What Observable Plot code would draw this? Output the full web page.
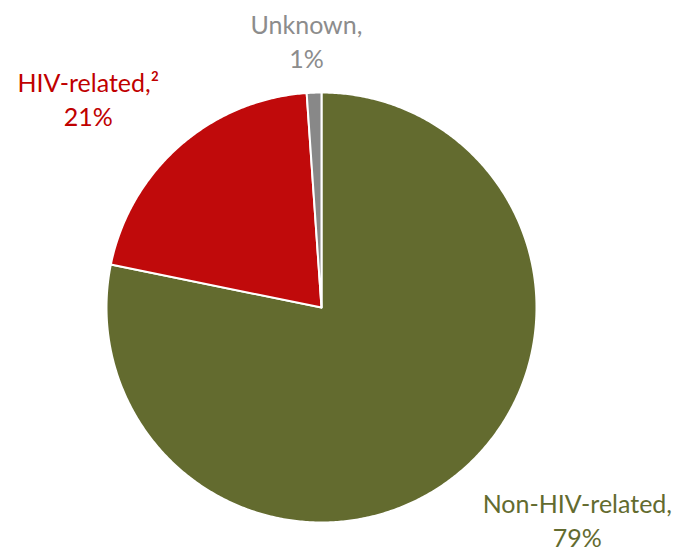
<!DOCTYPE html>
<html>
<head>
<meta charset="utf-8">
<script src="https://cdn.jsdelivr.net/npm/d3@7"></script>
<script src="https://cdn.jsdelivr.net/npm/@observablehq/plot@0.6"></script>
<style>
  html, body { margin: 0; padding: 0; background: #fff; }
  #chart svg { display: block; }
</style>
</head>
<body>
<div id="chart"></div>
<script>
// Data (clockwise from 12 o'clock)
const categories = ["Non-HIV-related", "HIV-related", "Unknown"];
const values = [78.2, 20.7, 1.1];
const colors = ["#636B2F", "#C00A0B", "#888888"];
const labelTexts = ["Non-HIV-related,\n79%", "HIV-related,\u00B2\n21%", "Unknown,\n1%"];
const labelColors = ["#636B2F", "#C00000", "#8C8C8C"];
// label anchor positions in unit-circle coordinates (radius = 1)
const labelX = [1.19, -1.085, -0.07];
const labelY = [-0.982, 0.976, 1.245];

// Build slice polygons from the values
const total = d3.sum(values);
const rows = [];
let acc = 0;
categories.forEach((c, i) => {
  const a0 = acc / total * 2 * Math.PI;
  acc += values[i];
  const a1 = acc / total * 2 * Math.PI;
  rows.push({cat: c, x: 0, y: 0});
  const n = Math.max(2, Math.ceil((a1 - a0) / (Math.PI / 360)));
  for (let k = 0; k <= n; k++) {
    const a = a0 + (a1 - a0) * k / n;
    rows.push({cat: c, x: Math.sin(a), y: Math.cos(a)});
  }
});

const labels = categories.map((c, i) => ({cat: c, text: labelTexts[i], x: labelX[i], y: labelY[i], color: labelColors[i]}));

const W = 682, H = 552, cx = 321, cy = 307, R = 215;
const chart = Plot.plot({
  width: W,
  height: H,
  margin: 0,
  x: {domain: [-cx / R, (W - cx) / R], axis: null},
  y: {domain: [-(H - cy) / R, cy / R], axis: null},
  color: {domain: categories, range: colors},
  marks: [
    Plot.line(rows, {x: "x", y: "y", z: "cat", fill: "cat", stroke: "white", strokeWidth: 2, curve: "linear-closed", strokeLinejoin: "round"}),
    Plot.text(labels, {x: "x", y: "y", text: "text", fill: d => d.color, fontSize: 25, fontFamily: "Lato", lineHeight: 1.36, textAnchor: "middle", lineAnchor: "middle"})
  ]
});
document.getElementById("chart").appendChild(chart);
</script>
</body>
</html>
